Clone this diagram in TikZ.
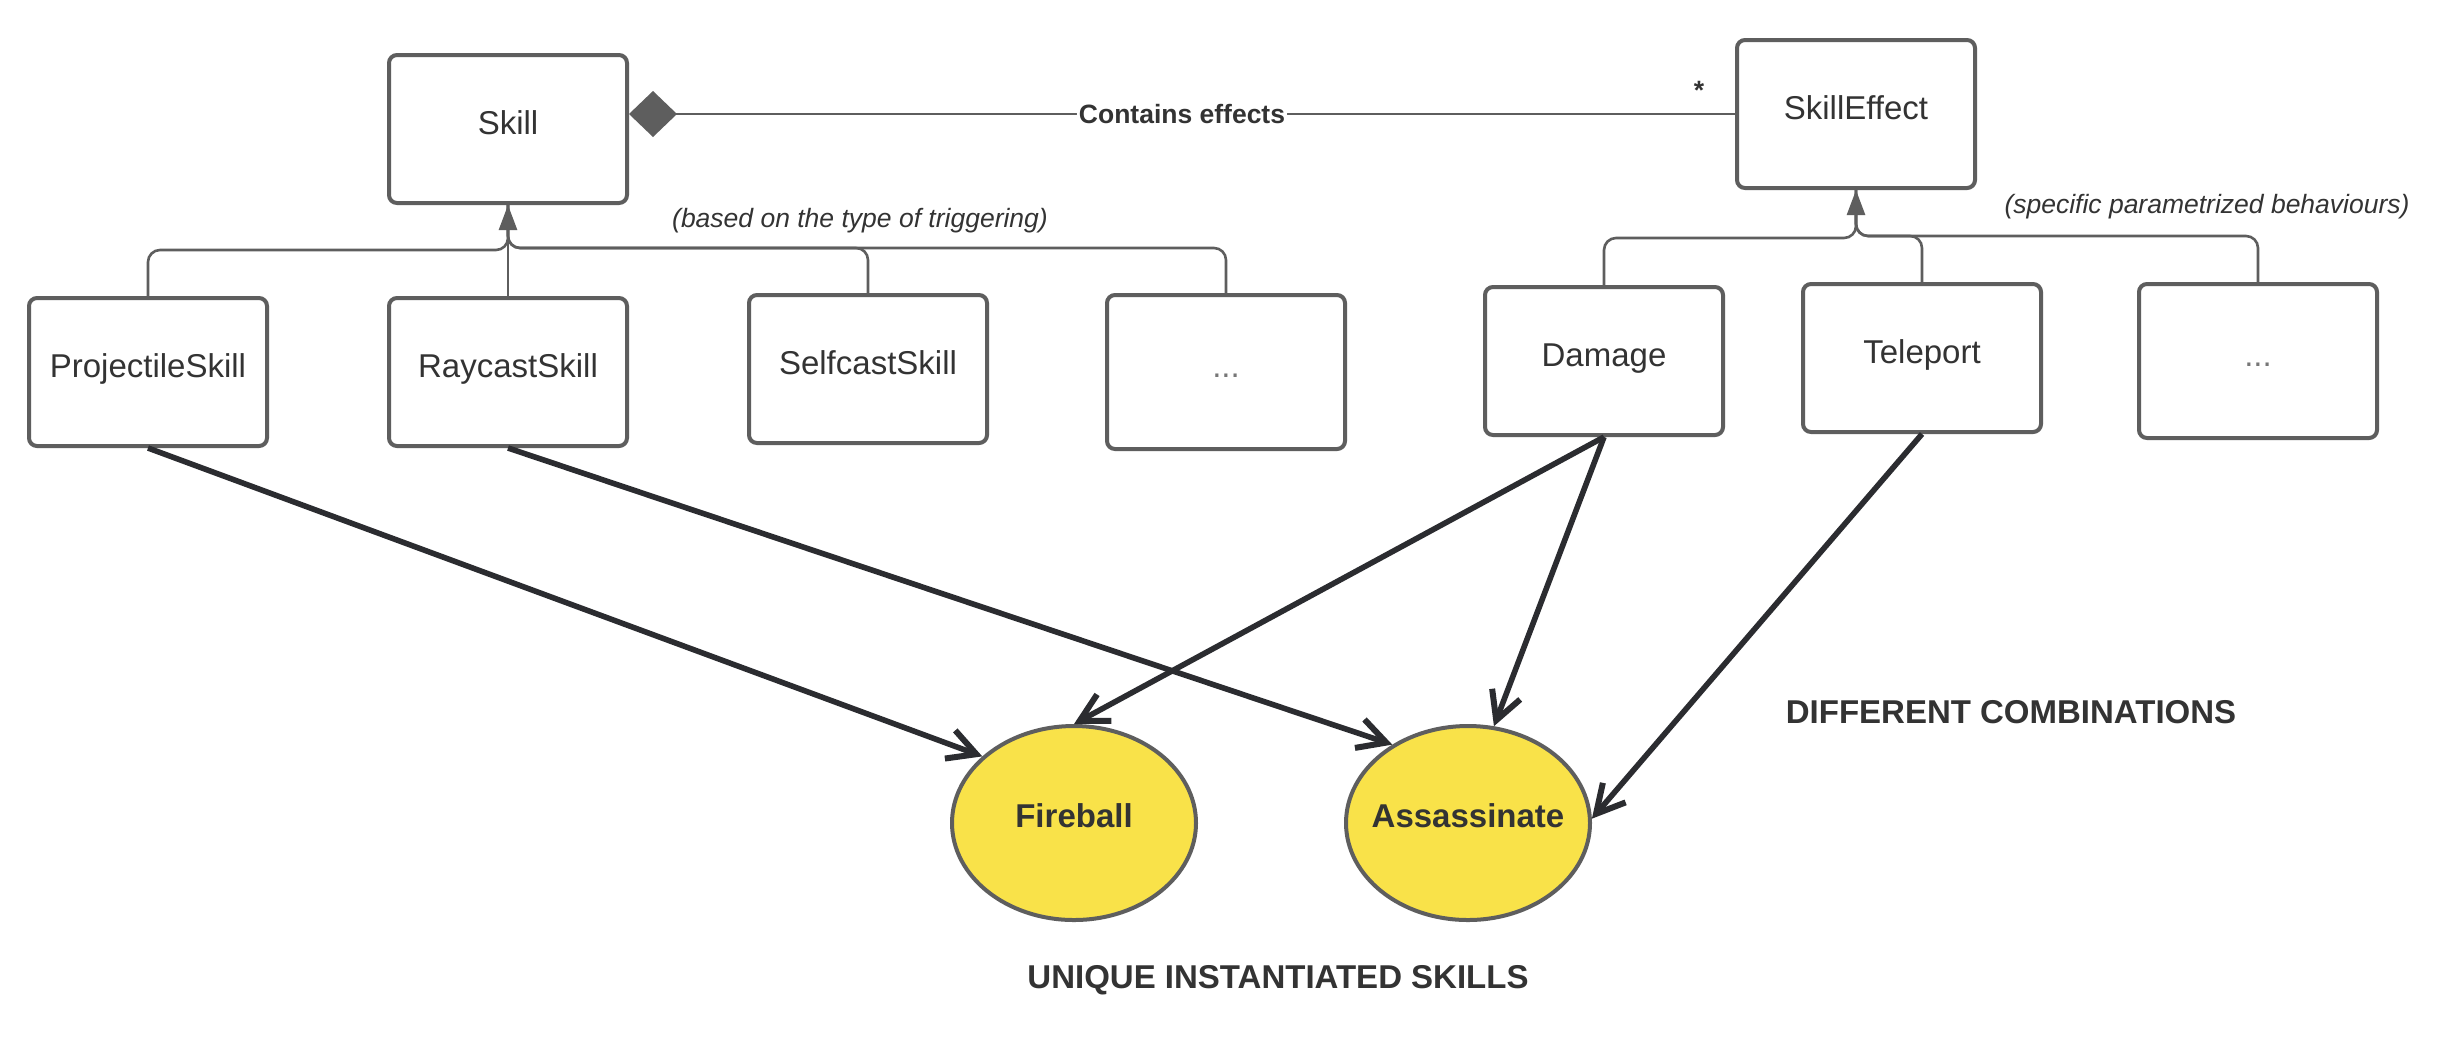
\documentclass[tikz,border=0pt]{standalone}
\usepackage{fontspec}
\setmainfont{Liberation Sans}
\usetikzlibrary{arrows.meta,shapes.geometric}
\definecolor{bordergray}{HTML}{5E5E5E}
\definecolor{txt}{HTML}{333333}
\definecolor{ylw}{HTML}{F9E249}
\definecolor{darkarr}{HTML}{2B2C30}
\definecolor{dotgray}{HTML}{777777}
\begin{document}
\begin{tikzpicture}[x=0.5pt,y=-0.5pt,
  cls/.style={draw=bordergray, line width=2pt, rounded corners=4pt, fill=white,
    minimum width=119pt, minimum height=74pt, inner sep=0pt,
    text height=12pt, text depth=7pt,
    font=\fontsize{16.5}{20}\selectfont, text=txt},
  dotsbox/.style={cls, text=dotgray, minimum height=77pt},
  inst/.style={ellipse, draw=bordergray, line width=2pt, fill=ylw,
    minimum width=122pt, minimum height=97pt, inner sep=0pt},
  insttext/.style={font=\bfseries\fontsize{16.5}{20}\selectfont, text=txt,
    inner sep=0pt, text height=12pt, text depth=8pt},
  conn/.style={draw=bordergray, line width=1.3pt, rounded corners=6pt},
  inh/.style={-{Triangle[length=12.5pt,width=9pt]}},
  darr/.style={draw=darkarr, line width=2.8pt,
    -{Straight Barb[length=14pt,width=15pt,line width=3pt,line cap=butt,line join=miter]}},
  biglabel/.style={font=\bfseries\fontsize{16.5}{20}\selectfont, text=txt},
  note/.style={font=\itshape\fontsize{13.25}{16}\selectfont, text=txt},
]
\useasboundingbox[fill=white] (0,0) rectangle (2452,1062);

% class boxes
\node[cls] (skill) at (508,129) {Skill};
\node[cls] (effect) at (1856,114) {SkillEffect};
\node[cls] (proj) at (148,372) {ProjectileSkill};
\node[cls] (ray) at (508,372) {RaycastSkill};
\node[cls] (self) at (868,369) {SelfcastSkill};
\node[dotsbox] (dotsA) at (1226,372) {...};
\node[cls] (damage) at (1604,361) {Damage};
\node[cls] (tele) at (1922,358) {Teleport};
\node[dotsbox] (dotsB) at (2258,361) {...};

% instances
\node[inst] (fire) at (1074,823) {};
\node[insttext] (firetxt) at (fire.center) {Fireball};
\node[inst] (assa) at (1468,823) {};
\node[insttext] (assatxt) at (assa.center) {Assassinate};

% composition
\draw[conn, -{Diamond[length=24pt,width=23pt]}]
  (effect.west) -- (effect.west -| skill.east)
  node[midway, fill=white, inner sep=1pt, font=\bfseries\fontsize{13.25}{16}\selectfont, text=txt] (contains) {Contains effects};
\node[font=\bfseries\fontsize{13.25}{16}\selectfont, text=txt] (star) at (1699,90) {*};

% inheritance Skill
\coordinate (sbL) at (508,250);
\coordinate (sbR) at (508,248);
\draw[conn] (proj.north) |- (sbL) -- (skill.south);
\draw[conn] (dotsA.north) |- (sbR) -- (skill.south);
\draw[conn] (self.north) |- (sbR) -- (skill.south);
\draw[conn, inh] (ray.north) -- (skill.south);

% inheritance SkillEffect
\coordinate (ebL) at (1856,238);
\coordinate (ebR) at (1856,236);
\draw[conn] (dotsB.north) |- (ebR) -- (effect.south);
\draw[conn] (tele.north) |- (ebR) -- (effect.south);
\draw[conn, inh] (damage.north) |- (ebL) -- (effect.south);

% notes
\node[note] (based) at (860,221) {(based on the type of triggering)};
\node[note] (spec) at (2207,207) {(specific parametrized behaviours)};

% combination arrows
\draw[darr] (proj.south) -- (fire.144);
\draw[darr] (ray.south) -- (assa.134);
\draw[darr] (damage.south) -- (fire.north);
\draw[darr] (damage.south) -- (assa.75);
\draw[darr] (tele.south) -- (assa.2);

% big labels
\node[biglabel] (diff) at (2011,712) {DIFFERENT COMBINATIONS};
\node[biglabel] (uniq) at (1278,980) {UNIQUE INSTANTIATED SKILLS};
\end{tikzpicture}
\end{document}
